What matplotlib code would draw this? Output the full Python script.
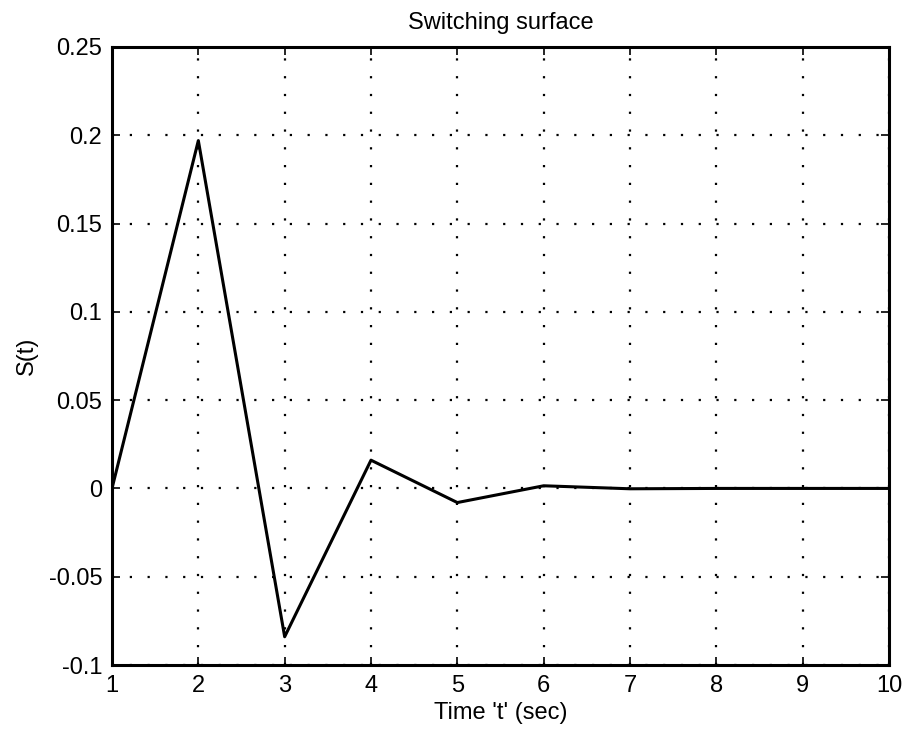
import numpy as np
import matplotlib
matplotlib.use('Agg')
from matplotlib import pyplot as plt

plt.rcParams['font.family'] = ['Liberation Sans', 'DejaVu Sans']

t = [1, 2, 3, 4, 5, 6, 7, 8, 9, 10]
s = [0.0, 0.197, -0.084, 0.016, -0.008, 0.0015, -0.0002, 0.0, 0.0, 0.0]
xticks = [1, 2, 3, 4, 5, 6, 7, 8, 9, 10]
yticks = [-0.1, -0.05, 0, 0.05, 0.1, 0.15, 0.2, 0.25]
yticklabels = ['-0.1', '-0.05', '0', '0.05', '0.1', '0.15', '0.2', '0.25']

fig = plt.figure(figsize=(9.06, 7.32), dpi=100)
ax = fig.add_axes([112/906, 1-665/732, (889-112)/906, (665-47)/732])
ax.plot(t, s, color='black', linewidth=2.2)

ax.set_xlim(1, 10)
ax.set_ylim(-0.1, 0.25)
ax.set_xticks(xticks)
ax.set_yticks(yticks)
ax.set_yticklabels(yticklabels)
ax.grid(True, color='black', linestyle=(0, (1, 7)), linewidth=1.6)
ax.tick_params(direction='in', top=True, right=True, length=6, width=1.2, labelsize=17, pad=7)
for sp in ax.spines.values():
    sp.set_linewidth(2.2)

ax.set_title('Switching surface', fontsize=17, pad=13)
ax.set_xlabel("Time 't' (sec)", fontsize=17, labelpad=4)
ax.set_ylabel('S(t)', fontsize=17, labelpad=8)

fig.savefig('out.png', dpi=100)
